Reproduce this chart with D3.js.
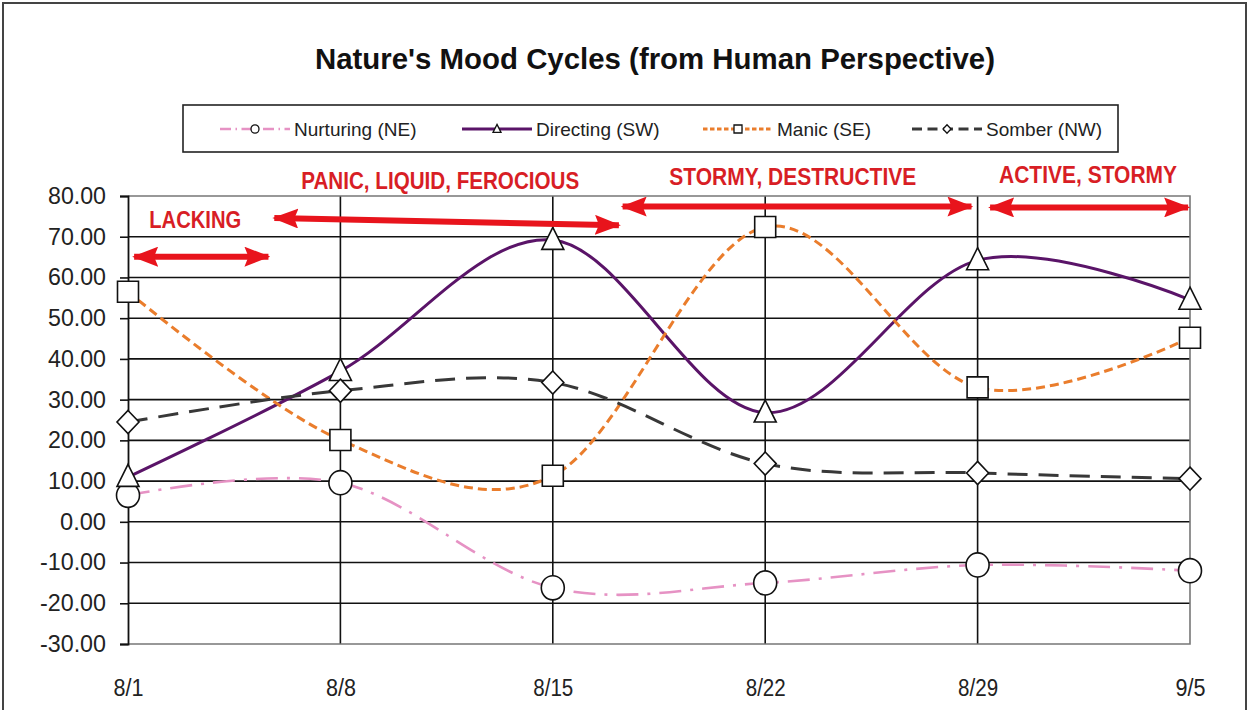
<!DOCTYPE html>
<html>
<head>
<meta charset="utf-8">
<script src="https://cdn.jsdelivr.net/npm/d3@7"></script>
<style>
    html, body { margin: 0; padding: 0; background: #fff; }
    svg { display: block; }
</style>
</head>
<body>
<svg id="chart" width="1249" height="710"></svg>
<script>
// --- 1. DATA ---
var dates = ["8/1", "8/8", "8/15", "8/22", "8/29", "9/5"];
var yTicks = [-30, -20, -10, 0, 10, 20, 30, 40, 50, 60, 70, 80];

var nurturing = [6.5, 9.6, -16.2, -15.0, -10.6, -12.0];
var directing = [11.0, 37.0, 69.2, 26.8, 64.2, 54.5];
var manic     = [56.5, 20.1, 11.3, 72.4, 33.0, 45.2];
var somber    = [24.5, 32.2, 34.2, 14.3, 12.0, 10.6];

var seriesNames = ["Nurturing (NE)", "Directing (SW)", "Manic (SE)", "Somber (NW)"];

// annotation arrows: from / to in date-index units, value level
var arrowFrom  = [0.01, 0.67, 2.31, 4.04];
var arrowTo    = [0.68, 2.33, 3.99, 5.01];
var arrowLevel = [[65.1, 65.1], [74.6, 72.8], [77.4, 77.4], [77.2, 77.2]];

var phaseLabels = ["LACKING", "PANIC, LIQUID, FEROCIOUS", "STORMY, DESTRUCTIVE", "ACTIVE, STORMY"];
var phaseLabelAt = [[0.1, 74.2], [1.47, 83.8], [3.13, 84.8], [4.52, 85.2]];

// --- 2. SETUP ---
var svg = d3.select("#chart");
var W = 1249, H = 710;
var margin = { left: 128, right: 59, top: 196, bottom: 66 };

var x = d3.scaleLinear().domain([0, dates.length - 1]).range([margin.left, W - margin.right]);
var y = d3.scaleLinear().domain([-30, 80]).range([H - margin.bottom, margin.top]);

var textFont = "'Liberation Sans', Arial, sans-serif";
var red = "#e8141c";

svg.append("rect").attr("width", W).attr("height", H).attr("fill", "#fff");

// outer chart border (bottom runs off the picture)
svg.append("rect")
    .attr("x", 3).attr("y", 3)
    .attr("width", W - 6).attr("height", H + 20)
    .attr("fill", "none")
    .attr("stroke", "#444")
    .attr("stroke-width", 2);

// title
svg.append("text")
    .attr("x", 655).attr("y", 69)
    .attr("text-anchor", "middle")
    .attr("font-family", textFont)
    .attr("font-weight", "bold")
    .attr("font-size", 29)
    .attr("textLength", 680)
    .attr("lengthAdjust", "spacingAndGlyphs")
    .attr("fill", "#111")
    .text("Nature's Mood Cycles (from Human Perspective)");

// --- 3. GRID + AXES ---
var grid = svg.append("g");

grid.selectAll("line.h")
    .data(yTicks.filter(d => d > -30 && d < 80))
    .enter().append("line")
    .attr("x1", x(0)).attr("x2", x(dates.length - 1))
    .attr("y1", d => y(d)).attr("y2", d => y(d))
    .attr("stroke", "#111").attr("stroke-width", 1.6);

grid.selectAll("line.v")
    .data(d3.range(1, dates.length - 1))
    .enter().append("line")
    .attr("x1", d => x(d)).attr("x2", d => x(d))
    .attr("y1", y(80)).attr("y2", y(-30))
    .attr("stroke", "#111").attr("stroke-width", 1.6);

// plot frame (grey right / bottom / top)
grid.append("path")
    .attr("d", `M${x(0)},${y(80)}H${x(5)}V${y(-30)}H${x(0)}`)
    .attr("fill", "none")
    .attr("stroke", "#777").attr("stroke-width", 1.6);

var yAxis = d3.axisLeft(y)
    .tickValues(yTicks)
    .tickSize(8)
    .tickPadding(14)
    .tickFormat(d => d.toFixed(2));   // plain hyphen, like the original

var yG = svg.append("g")
    .attr("transform", `translate(${x(0)},0)`)
    .call(yAxis);
yG.select(".domain").attr("stroke", "#111").attr("stroke-width", 1.8);
yG.selectAll(".tick line").attr("stroke", "#111").attr("stroke-width", 1.6);
yG.selectAll(".tick text")
    .attr("font-family", textFont)
    .attr("font-size", 23)
    .attr("textLength", d => d < 0 ? 66 : (d === 0 ? 46 : 58))
    .attr("lengthAdjust", "spacingAndGlyphs")
    .attr("fill", "#222");

var xAxis = d3.axisBottom(x)
    .tickValues(d3.range(dates.length))
    .tickSize(0)
    .tickPadding(36)
    .tickFormat(i => dates[i]);

var xG = svg.append("g")
    .attr("transform", `translate(0,${y(-30)})`)
    .call(xAxis);
xG.select(".domain").remove();
xG.selectAll(".tick text")
    .attr("font-family", textFont)
    .attr("font-size", 23)
    .attr("fill", "#222")
    .attr("textLength", i => dates[i].length * 10)
    .attr("lengthAdjust", "spacingAndGlyphs");

// --- 4. SERIES ---
var series = [
    { name: seriesNames[0], values: nurturing, color: "#e692c4", width: 2.6, dash: "22,9,3,9", shape: "circle" },
    { name: seriesNames[1], values: directing, color: "#5a1468", width: 3, dash: null, shape: "triangle" },
    { name: seriesNames[2], values: manic,     color: "#ea7d2c", width: 3, dash: "9,5", shape: "square" },
    { name: seriesNames[3], values: somber,    color: "#383838", width: 3, dash: "20,11", shape: "diamond" }
];

var line = d3.line()
    .x((d, i) => x(i))
    .y(d => y(d))
    .curve(d3.curveCardinal.tension(0));

function markerPath(shape, s) {
    // s = half size
    if (shape === "circle") {
        return `M${-s},0A${s},${s * 1.05} 0 1,0 ${s},0A${s},${s * 1.05} 0 1,0 ${-s},0Z`;
    } else if (shape === "triangle") {
        return `M0,${-s * 1.15}L${s},${s * 0.85}L${-s},${s * 0.85}Z`;
    } else if (shape === "square") {
        return `M${-s},${-s}H${s}V${s}H${-s}Z`;
    } else {
        return `M0,${-s * 1.05}L${s},0L0,${s * 1.05}L${-s},0Z`;
    }
}

var markerSize = { circle: 11.5, triangle: 11, square: 10.5, diamond: 11 };

series.forEach(function(s) {
    svg.append("path")
        .datum(s.values)
        .attr("d", line)
        .attr("fill", "none")
        .attr("stroke", s.color)
        .attr("stroke-width", s.width)
        .attr("stroke-dasharray", s.dash);
});

series.forEach(function(s) {
    svg.selectAll(null)
        .data(s.values)
        .enter().append("path")
        .attr("transform", (d, i) => `translate(${x(i)},${y(d)})`)
        .attr("d", markerPath(s.shape, markerSize[s.shape]))
        .attr("fill", "#fff")
        .attr("stroke", "#111")
        .attr("stroke-width", 1.6);
});

// --- 5. PHASE ARROWS ---
var defs = svg.append("defs");
defs.append("marker")
    .attr("id", "head")
    .attr("viewBox", "0 0 26 20")
    .attr("refX", 24).attr("refY", 10)
    .attr("markerWidth", 26).attr("markerHeight", 20)
    .attr("markerUnits", "userSpaceOnUse")
    .attr("orient", "auto-start-reverse")
    .append("path")
    .attr("d", "M0,0L26,10L0,20L4,10Z")
    .attr("fill", red);

arrowFrom.forEach(function(a, i) {
    svg.append("line")
        .attr("x1", x(a) + 4).attr("x2", x(arrowTo[i]) - 4)
        .attr("y1", y(arrowLevel[i][0])).attr("y2", y(arrowLevel[i][1]))
        .attr("stroke", red)
        .attr("stroke-width", 6)
        .attr("marker-start", "url(#head)")
        .attr("marker-end", "url(#head)");
});

var labelWidths = [92, 278, 247, 178];
phaseLabels.forEach(function(t, i) {
    svg.append("text")
        .attr("x", x(phaseLabelAt[i][0]))
        .attr("y", y(phaseLabelAt[i][1]))
        .attr("dy", "0.36em")
        .attr("text-anchor", i === 0 ? "start" : "middle")
        .attr("font-family", textFont)
        .attr("font-weight", "bold")
        .attr("font-size", 23)
        .attr("textLength", labelWidths[i])
        .attr("lengthAdjust", "spacingAndGlyphs")
        .attr("fill", "#d81e25")
        .text(t);
});

// --- 6. LEGEND ---
var legend = svg.append("g");
legend.append("rect")
    .attr("x", 183).attr("y", 105)
    .attr("width", 935).attr("height", 47)
    .attr("fill", "#fff")
    .attr("stroke", "#222")
    .attr("stroke-width", 1.6);

var legendX = [220, 462, 703, 912];

series.forEach(function(s, i) {
    var g = legend.append("g").attr("transform", `translate(${legendX[i]},129)`);
    g.append("line")
        .attr("x1", 0).attr("x2", 70)
        .attr("stroke", s.color)
        .attr("stroke-width", s.width)
        .attr("stroke-dasharray", s.dash ? s.dash.split(",").map(v => v * 0.5).join(",") : null);
    g.append("path")
        .attr("transform", "translate(35,0)")
        .attr("d", markerPath(s.shape, 4))
        .attr("fill", "#fff")
        .attr("stroke", "#111")
        .attr("stroke-width", 1.3);
    g.append("text")
        .attr("x", 74)
        .attr("dy", "0.36em")
        .attr("font-family", textFont)
        .attr("font-size", 19)
        .attr("fill", "#222")
        .text(s.name);
});
</script>
</body>
</html>
